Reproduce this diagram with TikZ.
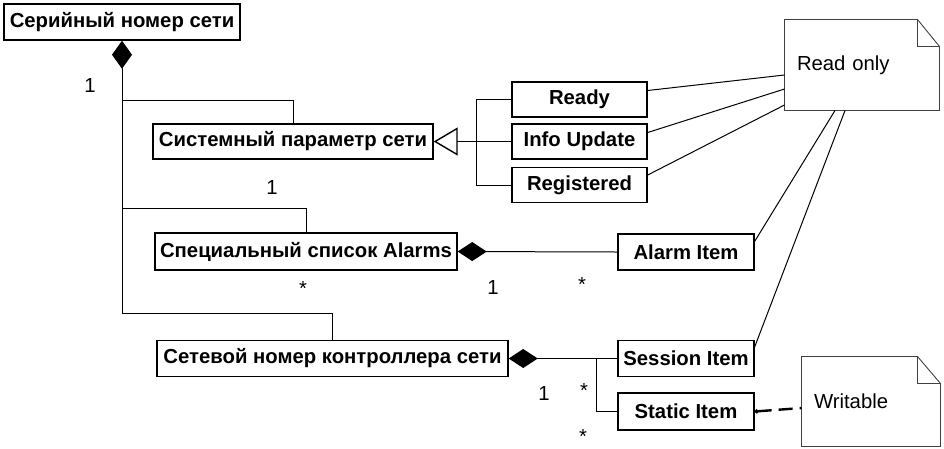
\documentclass[tikz,border=0pt]{standalone}
\usepackage{fontspec}
\setmainfont{Liberation Sans}
\usetikzlibrary{arrows.meta}
\begin{document}
\begin{tikzpicture}[x=1pt, y=-1pt, line width=1pt,
		every node/.style={font=\fontsize{20.3}{24}\selectfont, inner sep=0pt},
		box/.style={draw, line width=1.4pt, fill=white, font=\fontsize{20.3}{24}\selectfont\bfseries,
		minimum height=35pt},
		note/.style={minimum width=#1, align=left, text width=#1-24pt, inner xsep=12pt},
		mult/.style={anchor=base},
		comp/.style={{Diamond[length=29pt, width=19pt]}-},
		gen/.style={-{Triangle[open, length=24pt, width=28pt, line width=1.4pt]}},
		noteline/.style={draw=black!75, line width=0.9pt},
		dep/.style={line width=2.4pt, dash pattern=on 14pt off 7pt, {Circle[length=4pt]}-} ]
	\useasboundingbox (0,0) rectangle (944,448);

	\node[box, minimum width=236pt, minimum height=36pt] (ser) at (122,22) {Серийный номер сети};
	\node[box, minimum width=280pt] (sys) at (293,141.5) {Системный параметр сети};
	\node[box, minimum width=135pt] (ready) at (579.5,99.5) {Ready};
	\node[box, minimum width=135pt] (info) at (579.5,141.5) {Info Update};
	\node[box, minimum width=135pt] (reg) at (579.5,185) {Registered};
	\node[box, minimum width=302pt, minimum height=37pt] (alarms) at (306,251.5) {Специальный список Alarms};
	\node[box, minimum width=136pt, minimum height=36pt] (alarm) at (686,252) {Alarm Item};
	\node[box, minimum width=351pt, minimum height=36pt] (net) at (332.5,358.5) {Сетевой номер контроллера сети};
	\node[box, minimum width=136pt, minimum height=36pt] (session) at (686,358.5) {Session Item};
	\node[box, minimum width=136pt, minimum height=37pt] (static) at (686,411.5) {Static Item};
	\node[note=154pt, minimum height=90pt] (ro) at (862,65) {Read only};
	\node[note=138pt, minimum height=89pt] (wr) at (871,401.5) {Writable};

	\draw[noteline] (ro.north west) -- ([xshift=-22pt]ro.north east) -- ([yshift=-27pt]ro.north east)
		-- (ro.south east) -- (ro.south west) -- cycle;
	\draw[noteline] ([xshift=-22pt]ro.north east) |- ([yshift=-27pt]ro.north east);
	\draw[noteline] (wr.north west) -- ([xshift=-23pt]wr.north east) -- ([yshift=-27pt]wr.north east)
		-- (wr.south east) -- (wr.south west) -- cycle;
	\draw[noteline] ([xshift=-23pt]wr.north east) |- ([yshift=-27pt]wr.north east);

	\draw[{Diamond[length=28pt, width=20pt]}-] (ser.south) -- ++(0,273) -| (net.north);
	\draw (ser.south) ++(0,60) -| (sys.north);
	\draw (ser.south) ++(0,168) -| (alarms.north);

	\draw[gen] (info.west) -- (sys.east);
	\draw (ready.west) -- ++(-35,0) |- (reg.west);

	\draw[comp] (alarms.east) -- (alarm.west);
	\draw[comp] (net.east) -- (session.west);
	\draw (session.west) ++(-21,0) |- (static.west);

	\draw ([yshift=9pt]ready.east) -- ([yshift=-10pt]ro.west);
	\draw ([yshift=9pt]info.east) -- ([yshift=-24pt]ro.west);
	\draw ([yshift=10pt]reg.east) -- ([yshift=-40pt]ro.west);
	\draw ([yshift=-8pt]alarm.north east) -- ([xshift=-27pt]ro.south);
	\draw ([yshift=-7pt]session.north east) -- ([xshift=-17pt]ro.south);
	\draw[dep] (static.east) -- ([yshift=-6.5pt]wr.west);

	\node[mult] (m1) at (90,92) {1};
	\node[mult] (m2) at (272,194) {1};
	\node[mult] (m3) at (303,295) {*};
	\node[mult] (m4) at (493,294) {1};
	\node[mult] (m5) at (582,291) {*};
	\node[mult] (m6) at (544,400) {1};
	\node[mult] (m7) at (584,397) {*};
	\node[mult] (m8) at (583,443) {*};
\end{tikzpicture}
\end{document}
